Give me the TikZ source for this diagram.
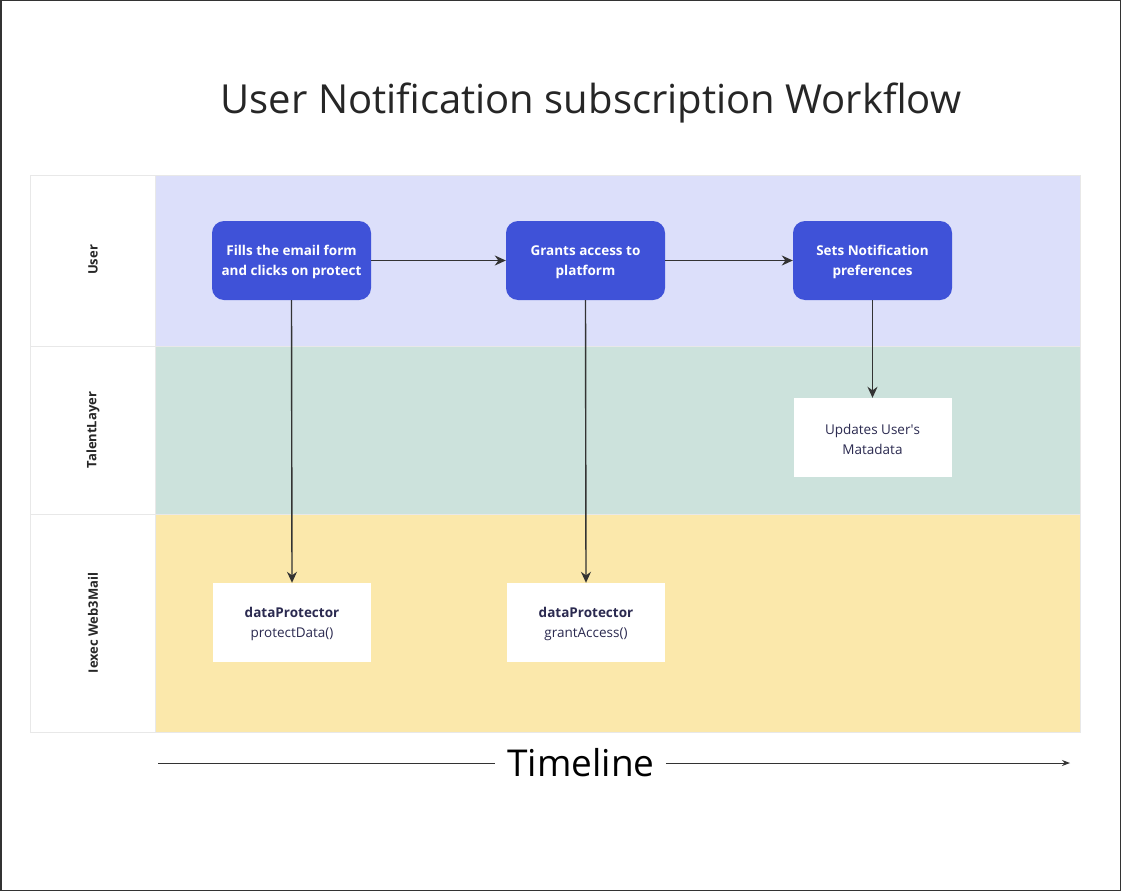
\documentclass[tikz,border=0pt]{standalone}
\usepackage{fontspec}
\setmainfont{Open Sans}
\newfontfamily\plainquote{Open Sans}[Ligatures=TeXOff]
\usetikzlibrary{arrows.meta}
\definecolor{laneA}{HTML}{DCDFFA}
\definecolor{laneB}{HTML}{CCE2DC}
\definecolor{laneC}{HTML}{FBE8AB}
\definecolor{blueN}{HTML}{3F52D8}
\definecolor{navyT}{HTML}{2B2A50}
\definecolor{edgeC}{HTML}{333333}
\definecolor{sepC}{HTML}{E8E8E8}
\tikzset{
  lane/.style={draw=sepC, line width=0.8pt},
  lanelabel/.style={rotate=90, font=\fontsize{13}{16}\selectfont\bfseries, text=black!85},
  action/.style={fill=blueN, rounded corners=12pt, minimum width=159pt, minimum height=79pt,
    text=white, align=center, font=\fontsize{13.5}{20}\selectfont\bfseries, inner sep=0pt},
  sysbox/.style={fill=white, minimum width=158pt, minimum height=79pt, text=navyT,
    align=center, font=\fontsize{13.5}{20}\selectfont, inner sep=0pt},
  flow/.style={draw=edgeC, line width=1.4pt, -{Stealth[length=11pt,width=10pt]}},
}
\begin{document}
\begin{tikzpicture}[x=1pt,y=-1pt]
\useasboundingbox (0,0) rectangle (1121,891);
\fill[white] (0,0) rectangle (1121,891);
\draw[edgeC, line width=1.5pt] (0.75,0.75) rectangle (1120.25,890.25);

\node[font=\fontsize{40}{44}\selectfont, text=black!85] (title) at (591,103) {User Notification subscription Workflow};

% lanes
\draw[lane, fill=white] (30,175) rectangle (155,346);
\draw[lane, fill=white] (30,346) rectangle (155,514);
\draw[lane, fill=white] (30,514) rectangle (155,732);
\draw[lane, fill=laneA] (155,175) rectangle (1080,346);
\draw[lane, fill=laneB] (155,346) rectangle (1080,514);
\draw[lane, fill=laneC] (155,514) rectangle (1080,732);
\node[lanelabel] (lUser) at (93,260) {User};
\node[lanelabel] (lTL) at (93,430) {TalentLayer};
\node[lanelabel] (lIex) at (93,623) {Iexec Web3Mail};

% nodes
\node[action] (fill) at (291.5,260.5) {\strut Fills the email form\\and clicks on protect};
\node[action] (grant) at (585.5,260.5) {\strut Grants access to\\platform};
\node[action] (prefs) at (872.5,260.5) {\strut Sets Notification\\preferences};
\node[sysbox] (meta) at (872.5,437.5) {\strut Updates User{\plainquote\char"27}s\\Matadata};
\node[sysbox] (dp1) at (292,622.5) {\strut\textbf{dataProtector}\\protectData()};
\node[sysbox] (dp2) at (586,622.5) {\strut\textbf{dataProtector}\\grantAccess()};

\draw[flow] (fill) -- (grant);
\draw[flow] (grant) -- (prefs);
\draw[flow] (fill.south) -- (dp1.north);
\draw[flow] (grant.south) -- (dp2.north);
\draw[flow] (prefs.south) -- (meta.north);

% timeline
\node[font=\fontsize{37}{40}\selectfont, text=black, inner sep=0pt] (tl) at (581,763) {Timeline};
\coordinate (tlA) at (158,763);
\coordinate (tlB) at (1070,763);
\draw[edgeC, line width=1pt] (tlA) -- ([xshift=-12pt]tl.west);
\draw[edgeC, line width=1pt, -{Stealth[length=8pt,width=6pt]}] ([xshift=11pt]tl.east) -- (tlB);
\end{tikzpicture}
\end{document}
